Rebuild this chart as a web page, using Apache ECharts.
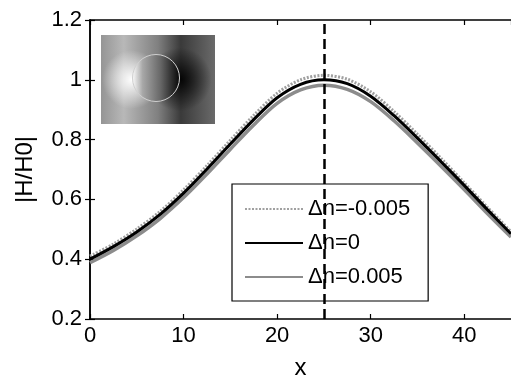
<!DOCTYPE html>
<html>
<head>
<meta charset="utf-8">
<script src="https://cdn.jsdelivr.net/npm/echarts@6/dist/echarts.min.js"></script>
<style>
  html, body { margin: 0; padding: 0; background: #fff; }
  #chart { width: 511px; height: 380px; }
</style>
</head>
<body>
<div id="chart"></div>
<script>
// x positions and |H/H0|
const xs = [0, 2.5, 5, 7.5, 10, 12.5, 15, 17.5, 20, 22.5, 25, 27.5, 30, 32.5, 35, 37.5, 40, 42.5, 45];
const dnMinus = [0.410, 0.451, 0.501, 0.560, 0.632, 0.713, 0.798, 0.881, 0.955, 1.000, 1.015, 1.002, 0.960, 0.894, 0.818, 0.738, 0.656, 0.573, 0.492];
const dnZero = [0.400, 0.442, 0.491, 0.550, 0.621, 0.701, 0.785, 0.867, 0.940, 0.985, 1.000, 0.987, 0.945, 0.880, 0.805, 0.727, 0.647, 0.565, 0.485];
const dnPlus = [0.388, 0.429, 0.478, 0.536, 0.606, 0.685, 0.768, 0.849, 0.921, 0.966, 0.982, 0.968, 0.927, 0.863, 0.789, 0.712, 0.633, 0.552, 0.474];
const seriesNames = ['\u0394n=-0.005', '\u0394n=0', '\u0394n=0.005'];
const markX = 25;

const font = 'Liberation Sans, Arial, sans-serif';
const pairs = arr => xs.map((x, i) => [x, arr[i]]);

const chart = echarts.init(document.getElementById('chart'));

const tickIn = { show: true, inside: true, length: 5, lineStyle: { color: '#000', width: 1.2 } };
const axisLn = { show: true, lineStyle: { color: '#000', width: 1.5 } };

chart.setOption({
  animation: false,
  backgroundColor: '#fff',
  grid: { left: 90, top: 20, width: 421, height: 299, outerBoundsMode: 'none', containLabel: false },
  xAxis: [
    {
      type: 'value', min: 0, max: 45, interval: 10,
      name: 'x', nameLocation: 'middle', nameGap: 37,
      nameTextStyle: { fontFamily: font, fontSize: 24, color: '#000' },
      axisLine: axisLn, axisTick: tickIn, splitLine: { show: false },
      axisLabel: { fontFamily: font, fontSize: 22, color: '#000', margin: 6, showMaxLabel: false }
    },
    {
      type: 'value', min: 0, max: 45, interval: 10, position: 'top',
      axisLine: axisLn, axisTick: tickIn, splitLine: { show: false },
      axisLabel: { show: false }
    }
  ],
  yAxis: [
    {
      type: 'value', min: 0.2, max: 1.2, interval: 0.2,
      name: '|H/H0|', nameLocation: 'middle', nameGap: 53,
      nameTextStyle: { fontFamily: font, fontSize: 24, color: '#000' },
      axisLine: axisLn, axisTick: tickIn, splitLine: { show: false },
      axisLabel: { fontFamily: font, fontSize: 22, color: '#000', margin: 8 }
    },
    {
      type: 'value', min: 0.2, max: 1.2, interval: 0.2, position: 'right',
      axisLine: axisLn, axisTick: tickIn, splitLine: { show: false },
      axisLabel: { show: false }
    }
  ],
  legend: {
    orient: 'vertical', left: 232, top: 184,
    data: seriesNames,
    itemWidth: 58, itemHeight: 4, itemGap: 12,
    padding: [14, 18, 13, 12],
    itemStyle: { opacity: 0 },
    backgroundColor: '#fff', borderColor: '#000', borderWidth: 1.2, borderRadius: 0,
    textStyle: { fontFamily: font, fontSize: 22, color: '#000', lineHeight: 22 }
  },
  series: [
    {
      name: seriesNames[2], type: 'line', data: pairs(dnPlus), smooth: 0.3,
      symbol: 'none', z: 2,
      lineStyle: { color: '#8c8c8c', width: 3.5 }, itemStyle: { color: '#8c8c8c' }
    },
    {
      name: seriesNames[0], type: 'line', data: pairs(dnMinus), smooth: 0.3,
      symbol: 'none', z: 3,
      lineStyle: { color: '#a0a0a0', width: 3, type: [2, 1.5] }, itemStyle: { color: '#a0a0a0' }
    },
    {
      name: seriesNames[1], type: 'line', data: pairs(dnZero), smooth: 0.3,
      symbol: 'none', z: 4,
      lineStyle: { color: '#000', width: 3 }, itemStyle: { color: '#000' },
      markLine: {
        silent: true, symbol: 'none', label: { show: false },
        lineStyle: { color: '#000', width: 2.5, type: [10, 5] },
        data: [{ xAxis: markX }]
      }
    }
  ],
  graphic: [
    {
      type: 'group', left: 101, top: 35, z: 10,
      children: [
        {
          type: 'rect', shape: { x: 0, y: 0, width: 114, height: 89 },
          style: {
            fill: new echarts.graphic.LinearGradient(0, 0, 1, 0, [
              { offset: 0, color: '#959595' },
              { offset: 0.2, color: '#b8b8b8' },
              { offset: 0.5, color: '#808080' },
              { offset: 0.7, color: '#3a3a3a' },
              { offset: 1, color: '#6a6a6a' }
            ])
          }
        },
        {
          type: 'rect', shape: { x: 0, y: 0, width: 114, height: 89 },
          style: {
            fill: new echarts.graphic.RadialGradient(0.27, 0.5, 0.33, [
              { offset: 0, color: 'rgba(255,255,255,1)' },
              { offset: 1, color: 'rgba(255,255,255,0)' }
            ])
          }
        },
        {
          type: 'rect', shape: { x: 0, y: 0, width: 114, height: 89 },
          style: {
            fill: new echarts.graphic.RadialGradient(0.69, 0.5, 0.36, [
              { offset: 0, color: 'rgba(0,0,0,0.95)' },
              { offset: 1, color: 'rgba(0,0,0,0)' }
            ])
          }
        },
        {
          type: 'circle', shape: { cx: 55, cy: 43, r: 23.5 },
          style: {
            fill: new echarts.graphic.LinearGradient(0, 0, 1, 0, [
              { offset: 0, color: '#ffffff' },
              { offset: 0.22, color: '#a8a8a8' },
              { offset: 0.6, color: '#666666' },
              { offset: 1, color: '#050505' }
            ]),
            stroke: '#cfcfcf', lineWidth: 1
          }
        }
      ]
    }
  ]
});
</script>
</body>
</html>
